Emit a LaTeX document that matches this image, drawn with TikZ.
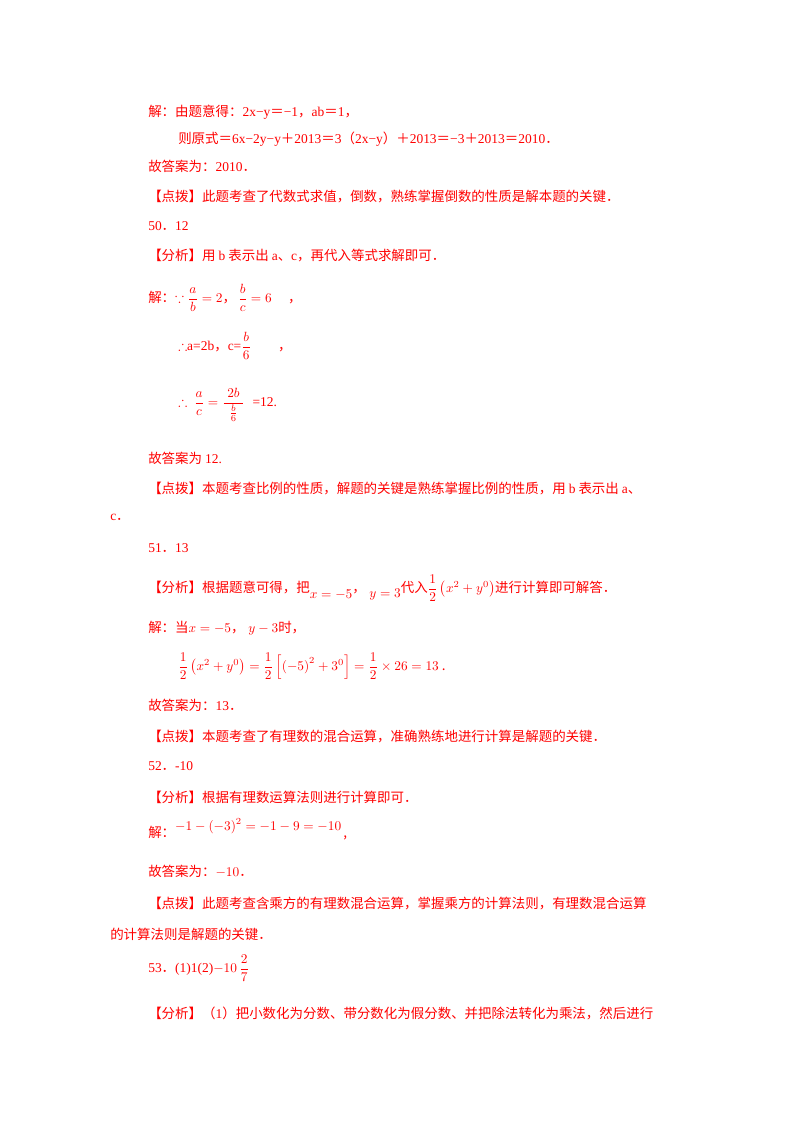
\documentclass[tikz,border=0pt]{standalone}
\usepackage{amsmath,amssymb}
\usepackage{fontspec}
\setmainfont{Noto Sans CJK SC}
\newfontfamily\lat{Liberation Serif}
\definecolor{rd}{RGB}{255,0,0}
\begin{document}
\begin{tikzpicture}[x=0.75pt,y=-0.75pt]
\useasboundingbox[fill=white] (0,0) rectangle (800,1132);
\tikzset{ln/.style={anchor=west,inner sep=0pt,text=rd,font=\fontsize{10.1}{12}\selectfont}}
\node[ln] (l1) at (148,112) {解：由题意得：{\lat 2x−y}＝{\lat −1}，{\lat ab}＝{\lat 1}，};
\node[ln] (l2) at (178,139) {则原式＝{\lat 6x−2y−y}＋{\lat 2013}＝{\lat 3}（{\lat 2x−y}）＋{\lat 2013}＝{\lat −3}＋{\lat 2013}＝{\lat 2010}．};
\node[ln] (l3) at (148,166) {故答案为：{\lat 2010}．};
\node[ln] (l4) at (148,197) {【点拨】此题考查了代数式求值，倒数，熟练掌握倒数的性质是解本题的关键．};
\node[ln] (l5) at (148,226) {{\lat 50}．{\lat 12}};
\node[ln] (l6) at (148,256) {【分析】用 {\lat b} 表示出 {\lat a}、{\lat c}，再代入等式求解即可．};
\node[ln] (l7) at (148,298) {解：$\because\dfrac{a}{b}=2$，\,$\dfrac{b}{c}=6$ \quad ，};
\node[ln] (l8) at (178,346) {$\therefore${\lat a=2b}，{\lat c=}$\dfrac{b}{6}$\qquad ，};
\node[ln] (l9) at (178,405) {$\therefore$\; $\dfrac{a}{c}=\dfrac{\;2b\;}{\frac{b}{6}}$\;\;{\lat =12.}};
\node[ln] (l10) at (148,458) {故答案为 {\lat 12.}};
\node[ln] (l11) at (148,489) {【点拨】本题考查比例的性质，解题的关键是熟练掌握比例的性质，用 {\lat b} 表示出 {\lat a}、};
\node[ln] (l12) at (110,517) {{\lat c}．};
\node[ln] (l13) at (148,548) {{\lat 51}．{\lat 13}};
\node[ln] (l14) at (148,588) {【分析】根据题意可得，把\raisebox{-5pt}{$x=-5$}，\raisebox{-4pt}{$\;y=3$}代入$\dfrac{1}{2}\left(x^2+y^0\right)$进行计算即可解答．};
\node[ln] (l15) at (148,628) {解：当$x=-5$，$\;y-3$时，};
\node[ln] (l16) at (178,666) {$\dfrac{1}{2}\left(x^2+y^0\right)=\dfrac{1}{2}\left[\left(-5\right)^2+3^0\right]=\dfrac{1}{2}\times26=13$ .};
\node[ln] (l17) at (148,705) {故答案为：{\lat 13}．};
\node[ln] (l18) at (148,737) {【点拨】本题考查了有理数的混合运算，准确熟练地进行计算是解题的关键．};
\node[ln] (l19) at (148,766) {{\lat 52}．{\lat -10}};
\node[ln] (l20) at (148,797) {【分析】根据有理数运算法则进行计算即可．};
\node[ln] (l21) at (148,829) {解：\raisebox{5pt}{$-1-\left(-3\right)^2=-1-9=-10$}\,,};
\node[ln] (l22) at (148,871) {故答案为：$-10$．};
\node[ln] (l23) at (148,904) {【点拨】此题考查含乘方的有理数混合运算，掌握乘方的计算法则，有理数混合运算};
\node[ln] (l24) at (110,934) {的计算法则是解题的关键．};
\node[ln] (l25) at (148,968) {{\lat 53}．{\lat (1)1(2)}$-10\,\dfrac{2}{7}$};
\node[ln] (l26) at (148,1013) {【分析】（{\lat 1}）把小数化为分数、带分数化为假分数、并把除法转化为乘法，然后进行};
\end{tikzpicture}
\end{document}
